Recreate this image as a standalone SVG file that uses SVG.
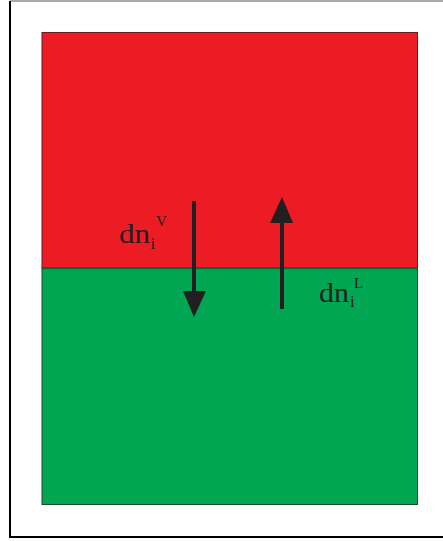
<svg xmlns="http://www.w3.org/2000/svg" width="443" height="541" viewBox="0 0 443 541">
<style>
.lbl{font-family:"Liberation Serif","Times New Roman",serif;fill:#231f20}
.big{font-size:28px}
.sub{font-size:17px}
.sup{font-size:15px}
.arrow{stroke:#231f20;stroke-width:4;fill:none}
.head{fill:#231f20}
</style>
<rect x="0" y="0" width="443" height="541" fill="#ffffff"/>
<g id="frame">
<line x1="10" y1="1" x2="443" y2="1" stroke="#555555" stroke-width="1"/>
<line x1="10" y1="1" x2="10" y2="537" stroke="#000000" stroke-width="2"/>
<line x1="9" y1="537" x2="443" y2="537" stroke="#000000" stroke-width="2"/>
</g>
<g id="vapor">
<rect x="42" y="32.5" width="375.5" height="235.5" fill="#ed1c24" stroke="#6d1a1c" stroke-width="1"/>
</g>
<g id="liquid">
<rect x="42" y="268" width="375.5" height="236.5" fill="#00a651" stroke="#1f4a33" stroke-width="1"/>
<line x1="42" y1="268.5" x2="417.5" y2="268.5" stroke="#0b6b3a" stroke-width="1.5"/>
</g>
<g id="connectors">
<line class="arrow" x1="194" y1="201" x2="194" y2="295"/>
<polygon class="head" points="183,291 206,291 194,317"/>
<line class="arrow" x1="282" y1="309" x2="282" y2="219"/>
<polygon class="head" points="270,223 293,223 282,197"/>
</g>
<g id="label-v">
<text class="lbl big" x="119" y="243" textLength="31" lengthAdjust="spacingAndGlyphs">dn</text>
<text class="lbl sub" x="150.5" y="249">i</text>
<text class="lbl sup" x="156" y="226">V</text>
</g>
<g id="label-l">
<text class="lbl big" x="319" y="302" textLength="30" lengthAdjust="spacingAndGlyphs">dn</text>
<text class="lbl sub" x="350" y="307">i</text>
<text class="lbl sup" x="354" y="288">L</text>
</g>
</svg>
